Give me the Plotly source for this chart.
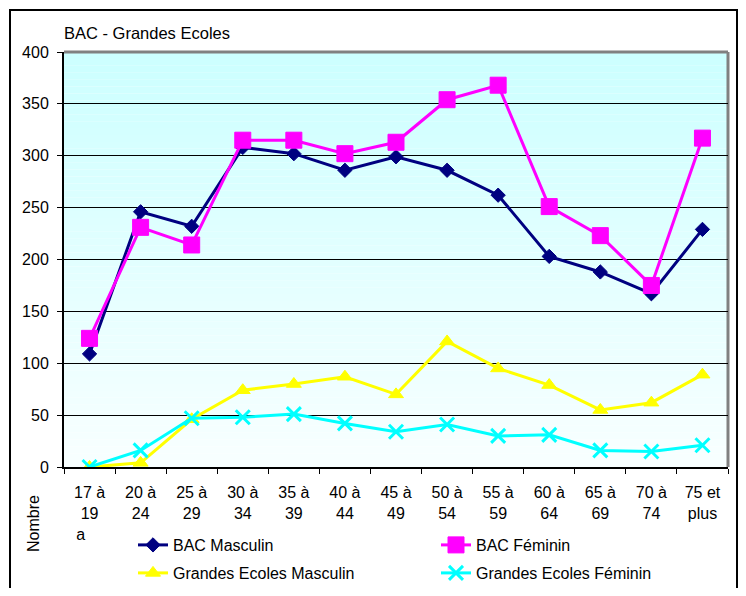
import plotly.graph_objects as go

categories = ["17 à 19 a", "20 à 24", "25 à 29", "30 à 34", "35 à 39", "40 à 44",
              "45 à 49", "50 à 54", "55 à 59", "60 à 64", "65 à 69", "70 à 74", "75 et plus"]
tick_labels = ["17 à<br>19<br>a\u00a0\u00a0\u00a0\u00a0", "20 à<br>24", "25 à<br>29", "30 à<br>34",
               "35 à<br>39", "40 à<br>44", "45 à<br>49", "50 à<br>54", "55 à<br>59",
               "60 à<br>64", "65 à<br>69", "70 à<br>74", "75 et<br>plus"]

bac_masculin = [109, 246, 232, 308, 302, 286, 299, 286, 262, 203, 188, 167, 229]
bac_feminin = [124, 231, 214, 315, 315, 302, 313, 354, 368, 251, 223, 175, 317]
ge_masculin = [0, 4, 46, 74, 80, 87, 70, 121, 95, 79, 55, 62, 89]
ge_feminin = [0, 16, 47, 48, 51, 42, 34, 41, 30, 31, 16, 15, 21]

FONT = "Liberation Sans, Arial, sans-serif"

fig = go.Figure()

series = [
    ("BAC Masculin", bac_masculin, "#000080", "diamond", 11, "legend"),
    ("BAC Féminin", bac_feminin, "#FF00FF", "square", 16, "legend2"),
    ("Grandes Ecoles Masculin", ge_masculin, "#FFFF00", "triangle-up", 13, "legend3"),
    ("Grandes Ecoles Féminin", ge_feminin, "#00FFFF", "x-thin", 14, "legend4"),
]
for name, vals, color, sym, size, leg in series:
    marker = dict(symbol=sym, size=size, color=color, line=dict(color=color, width=1))
    if sym == "x-thin":
        marker["line"] = dict(color=color, width=3)
    fig.add_trace(go.Scatter(
        x=categories, y=vals, name=name, mode="lines+markers",
        line=dict(color=color, width=3), marker=marker, legend=leg,
    ))

# gradient background of the plot area
shapes = []
n = 60
top = (204, 255, 255)
bot = (248, 255, 255)
for i in range(n):
    t = i / (n - 1)
    c = tuple(round(top[k] + (bot[k] - top[k]) * t) for k in range(3))
    shapes.append(dict(type="rect", xref="paper", yref="paper",
                       x0=0, x1=1, y1=1 - i / n, y0=1 - (i + 1) / n,
                       fillcolor="rgb(%d,%d,%d)" % c, line=dict(width=0), layer="below"))
# gray frame on top and right
shapes.append(dict(type="line", xref="paper", yref="paper", x0=0, x1=1, y0=1, y1=1,
                   line=dict(color="#808080", width=3), layer="below"))
shapes.append(dict(type="line", xref="paper", yref="paper", x0=1, x1=1, y0=0, y1=1,
                   line=dict(color="#808080", width=3), layer="below"))
# outer chart border
shapes.append(dict(type="rect", xref="paper", yref="paper",
                   x0=(10 - 64) / 664, x1=(737 - 64) / 664,
                   y0=(467 - 605) / 415, y1=(467 - 10) / 415,
                   line=dict(color="black", width=2), fillcolor="rgba(0,0,0,0)"))

leg_common = dict(orientation="h", xanchor="left", yanchor="middle",
                  font=dict(family=FONT, size=16, color="black"),
                  bgcolor="rgba(0,0,0,0)", borderwidth=0)
xa = (133 - 64) / 664
xb = (436 - 64) / 664
ya = (467 - 545) / 415
yb = (467 - 573) / 415

# page body has an 8px margin: figure is 16px smaller than the window
fig.update_layout(
    width=730, height=580,
    margin=dict(l=56, r=10, t=44, b=121, autoexpand=False),
    paper_bgcolor="white",
    plot_bgcolor="rgba(0,0,0,0)",
    font=dict(family=FONT, size=16, color="black"),
    shapes=shapes,
    showlegend=True,
    legend=dict(x=xa, y=ya, **leg_common),
    legend2=dict(x=xb, y=ya, **leg_common),
    legend3=dict(x=xa, y=yb, **leg_common),
    legend4=dict(x=xb, y=yb, **leg_common),
    xaxis=dict(
        type="category", categoryorder="array", categoryarray=categories,
        tickvals=categories, ticktext=tick_labels,
        range=[-0.5, len(categories) - 0.5],
        tickson="boundaries", ticks="outside", ticklen=5, tickwidth=1, tickcolor="black",
        showline=True, linecolor="black", linewidth=2,
        showgrid=False, zeroline=False,
        tickfont=dict(family=FONT, size=16, color="black"),
        ticklabelstandoff=10,
        automargin=False,
        fixedrange=True,
    ),
    yaxis=dict(
        range=[0, 400], dtick=50, tick0=0,
        ticks="outside", ticklen=5, tickwidth=1, tickcolor="black",
        showline=True, linecolor="black", linewidth=2,
        showgrid=True, gridcolor="black", gridwidth=1,
        zeroline=False,
        tickfont=dict(family=FONT, size=16, color="black"),
        ticklabelstandoff=5,
        automargin=False,
        fixedrange=True,
    ),
    annotations=[
        dict(text="BAC - Grandes Ecoles", xref="paper", yref="paper",
             x=-0.003, y=(467 - 33) / 415, xanchor="left", yanchor="middle",
             showarrow=False, font=dict(family=FONT, size=16.5, color="black")),
        dict(text="Nombre", xref="paper", yref="paper", textangle=-90,
             x=(33 - 64) / 664, y=(467 - 524) / 415, xanchor="center", yanchor="middle",
             showarrow=False, font=dict(family=FONT, size=16, color="black")),
    ],
)

fig.write_html("out.html")
